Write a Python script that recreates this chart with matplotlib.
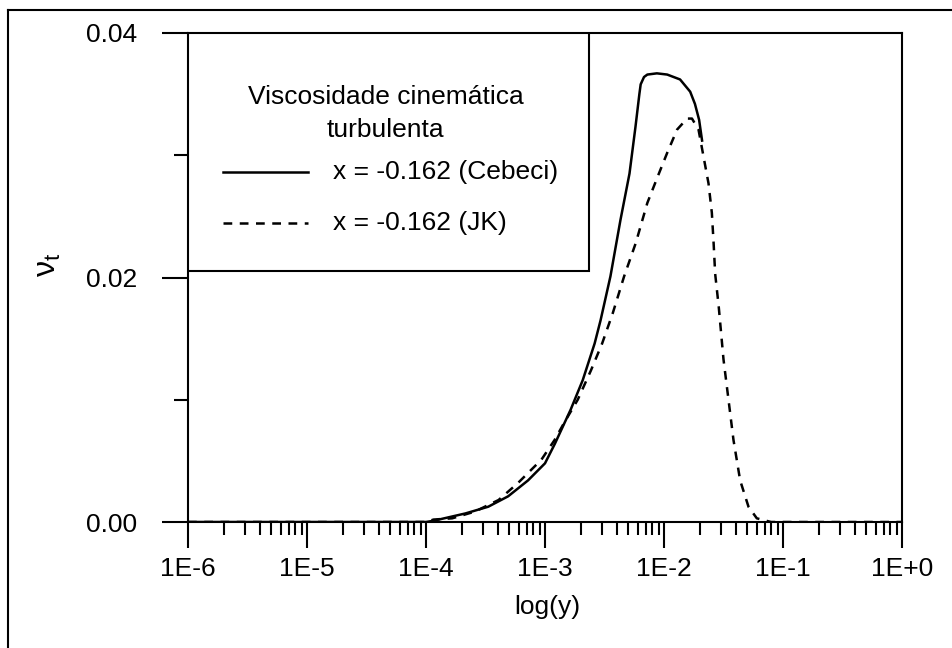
import numpy as np
import matplotlib
matplotlib.use("Agg")
import matplotlib.pyplot as plt
from matplotlib.patches import Rectangle
from matplotlib.lines import Line2D
from matplotlib.ticker import LogLocator, NullFormatter

plt.rcParams['font.family'] = ['Liberation Sans', 'DejaVu Sans']
plt.rcParams['mathtext.fontset'] = 'custom'
plt.rcParams['mathtext.rm'] = 'Liberation Sans'
plt.rcParams['mathtext.it'] = 'Liberation Sans'

# data (x given as log10 of y-coordinate)
cebeci_logy = [-6.0, -4.0, -3.937, -3.669, -3.477, -3.31, -3.143, -3.0, -2.917, -2.784,
               -2.683, -2.583, -2.533, -2.45, -2.366, -2.29, -2.24, -2.207, -2.196,
               -2.168, -2.14, -2.06, -1.973, -1.865, -1.78, -1.74, -1.705, -1.68]
cebeci_nut = [0.0, 0.0, 0.0001, 0.0007, 0.00125, 0.0021, 0.0034, 0.0048, 0.0064, 0.0092,
              0.0116, 0.0146, 0.0165, 0.0201, 0.0247, 0.0285, 0.0323, 0.0350, 0.0358,
              0.0364, 0.0366, 0.0367, 0.0366, 0.0362, 0.0352, 0.0342, 0.0329, 0.0312]

jk_logy = [-6.0, -4.0, -3.937, -3.78, -3.59, -3.39, -3.226, -3.03, -2.92, -2.84, -2.725,
           -2.614, -2.52, -2.43, -2.335, -2.238, -2.14, -2.043, -1.973, -1.89, -1.806,
           -1.765, -1.71, -1.668, -1.626, -1.598, -1.583, -1.57, -1.54, -1.50, -1.458,
           -1.416, -1.36, -1.29, -1.22, -1.1, 0.0]
jk_nut = [0.0, 0.0, 0.0002, 0.0003, 0.00085, 0.0018, 0.0032, 0.0051, 0.0067, 0.0081, 0.0100,
          0.0124, 0.0146, 0.0171, 0.0201, 0.0228, 0.0261, 0.0285, 0.0302, 0.0321, 0.0330,
          0.0330, 0.0321, 0.0299, 0.0277, 0.0253, 0.0228, 0.0203, 0.0176, 0.0133, 0.0100,
          0.0067, 0.0034, 0.00125, 0.0003, 0.0, 0.0]

x_ticks = [1e-6, 1e-5, 1e-4, 1e-3, 1e-2, 1e-1, 1e0]
x_tick_labels = ['1E-6', '1E-5', '1E-4', '1E-3', '1E-2', '1E-1', '1E+0']
y_ticks = [0.0, 0.02, 0.04]
y_tick_labels = ['0.00', '0.02', '0.04']
y_minor = [0.01, 0.03]

legend_title = ['Viscosidade cinemática', 'turbulenta']
label_cebeci = 'x = -0.162 (Cebeci)'
label_jk = 'x = -0.162 (JK)'

fs = 19
lw_axis = 1.5
lw_curve = 1.8

fig = plt.figure(figsize=(9.52, 6.48), dpi=100)
ax = fig.add_axes([188 / 952, 1 - 522 / 648, (902 - 188) / 952, (522 - 33) / 648])

ax.plot(10 ** np.array(cebeci_logy), cebeci_nut, color='black', lw=lw_curve,
        solid_joinstyle='round')
ax.plot(10 ** np.array(jk_logy), jk_nut, color='black', lw=lw_curve, dashes=(3.5, 3))

ax.set_xscale('log')
ax.set_xlim(1e-6, 1e0)
ax.set_ylim(0, 0.04)

ax.set_xticks(x_ticks)
ax.set_xticklabels(x_tick_labels)
ax.xaxis.set_minor_locator(LogLocator(base=10, subs=np.arange(2, 10)))
ax.xaxis.set_minor_formatter(NullFormatter())
ax.set_yticks(y_ticks)
ax.set_yticklabels(y_tick_labels)
ax.set_yticks(y_minor, minor=True)

ax.tick_params(axis='x', which='major', direction='out', length=18.5, width=lw_axis,
               labelsize=fs, pad=7)
ax.tick_params(axis='x', which='minor', direction='out', length=9, width=lw_axis)
ax.tick_params(axis='y', which='major', direction='out', length=18.5, width=lw_axis,
               labelsize=fs, pad=18)
ax.tick_params(axis='y', which='minor', direction='out', length=10, width=lw_axis)

for s in ax.spines.values():
    s.set_linewidth(lw_axis)

ax.set_xlabel('log(y)', fontsize=fs)
ax.xaxis.set_label_coords(0.503, -0.149)
ax.set_ylabel(r'$\nu_t$', fontsize=23)
ax.yaxis.set_label_coords(-0.175, 0.525)

# legend box drawn by hand
ax.add_patch(Rectangle((0, 0.5133), 0.5616, 0.4867, transform=ax.transAxes,
                       facecolor='white', edgecolor='black', lw=lw_axis, zorder=5))
ax.text(0.2769, 0.8697, legend_title[0], transform=ax.transAxes,
        ha='center', va='center', fontsize=fs, zorder=6)
ax.text(0.2769, 0.8016, legend_title[1], transform=ax.transAxes,
        ha='center', va='center', fontsize=fs, zorder=6)
ax.add_line(Line2D([0.049, 0.168], [0.7164, 0.7164], transform=ax.transAxes,
                   color='black', lw=lw_curve, zorder=6))
ax.add_line(Line2D([0.049, 0.168], [0.6115, 0.6115], transform=ax.transAxes,
                   color='black', lw=lw_curve, dashes=(3.5, 3), zorder=6))
ax.text(0.2031, 0.7164, label_cebeci, transform=ax.transAxes,
        ha='left', va='center', fontsize=fs, zorder=6)
ax.text(0.2031, 0.6115, label_jk, transform=ax.transAxes,
        ha='left', va='center', fontsize=fs, zorder=6)

# outer frame (only left and top visible in the reference)
fig.add_artist(Line2D([8 / 952, 8 / 952], [0, 1 - 10 / 648], color='black', lw=1.5))
fig.add_artist(Line2D([8 / 952, 1], [1 - 10 / 648, 1 - 10 / 648], color='black', lw=1.5))

fig.savefig('out.png', dpi=100)
